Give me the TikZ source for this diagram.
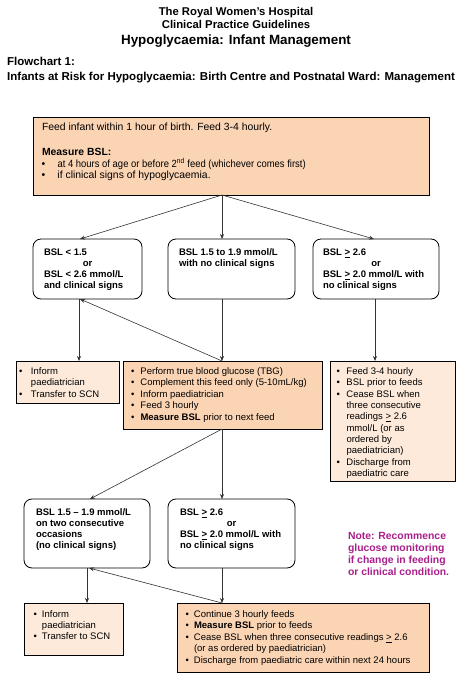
\documentclass[tikz,border=0pt]{standalone}
\usepackage{fontspec}
\setmainfont{Liberation Sans}
\usetikzlibrary{arrows.meta}
\definecolor{peach}{HTML}{FBD4B4}
\definecolor{lpeach}{HTML}{FDEADA}
\definecolor{notec}{RGB}{170,30,140}
\newcommand\lns[1]{\begin{tabular}[t]{@{}l@{}}#1\end{tabular}}
\newcommand\blst[2]{\begin{tabular}[t]{@{}p{#1}@{}l@{}}#2\end{tabular}}
\newcommand\uge{\underline{>}}
\tikzset{
  box/.style={draw=black, line width=0.8pt, inner sep=0pt, outer sep=0pt},
  rbox/.style={box, rounded corners=8pt, fill=white},
  dbox/.style={box, fill=peach},
  lbox/.style={box, fill=lpeach},
  txt/.style={anchor=base west, inner sep=0pt, outer sep=0pt, font=\fontsize{9.5}{11.4}\selectfont},
  toptxt/.style={txt, font=\fontsize{10.4}{11}\selectfont},
  btxt/.style={txt, font=\fontsize{9.5}{11}\selectfont\bfseries},
  ortxt/.style={anchor=base, inner sep=0pt, font=\fontsize{9.5}{11}\selectfont\bfseries},
  ttl/.style={anchor=base, inner sep=0pt, font=\fontsize{11.3}{13}\selectfont\bfseries},
  hdr/.style={anchor=base west, inner sep=0pt, font=\fontsize{11.5}{13}\selectfont\bfseries},
  notetxt/.style={txt, text=notec, font=\fontsize{10.4}{12}\selectfont\bfseries},
  conn/.style={draw=black!80, line width=0.6pt},
  arr/.style={conn, -{Stealth[length=5pt,width=4pt]}},
}
\begin{document}
\begin{tikzpicture}[x=1pt,y=-1pt]
\useasboundingbox (0,0) rectangle (464,677);
% titles
\node[ttl] (t1) at (236,15.7) {The Royal Women's Hospital};
\node[ttl] (t2) at (236,28.3) {Clinical Practice Guidelines};
\node[ttl, font=\fontsize{13.4}{15}\selectfont\bfseries] (t3) at (236,44.3) {Hypoglycaemia: Infant Management};
\node[hdr] (h1) at (7,65.7) {Flowchart 1:};
\node[hdr] (h2) at (7,81) {Infants at Risk for Hypoglycaemia: Birth Centre and Postnatal Ward: Management};
% boxes
\node[dbox, minimum width=396pt, minimum height=78pt] (top) at (231,156) {};
\node[rbox, minimum width=109pt, minimum height=60pt] (l2) at (87.5,269) {};
\node[rbox, minimum width=127pt, minimum height=60pt] (m2) at (231.5,269) {};
\node[rbox, minimum width=126pt, minimum height=60pt] (r2) at (376,269) {};
\node[lbox, minimum width=103pt, minimum height=42pt] (l3) at (67.5,382) {};
\node[dbox, minimum width=199pt, minimum height=68pt] (m3) at (222.5,395) {};
\node[lbox, minimum width=125pt, minimum height=120pt] (r3) at (392.5,421) {};
\node[rbox, minimum width=126pt, minimum height=69pt] (l4) at (87,533.5) {};
\node[rbox, minimum width=127pt, minimum height=69pt] (m4) at (231.5,533.5) {};
\node[lbox, minimum width=99pt, minimum height=52pt] (l5) at (73.5,629) {};
\node[dbox, minimum width=252pt, minimum height=69pt] (m5) at (303,637.5) {};
% connectors
\coordinate (tb) at (top.south -| 222,0);
\draw[arr] (tb) -- (l2.north -| 80,0);
\draw[arr] (tb) -- (m2.north -| 222,0);
\draw[arr] (tb) -- (r2.north -| 374,0);
\draw[arr] (l2.south -| 79,0) -- (l3.north -| 79,0);
\draw[arr] (m2.south -| 222,0) -- (m3.north -| 222,0);
\draw[arr] (r2.south -| 375,0) -- (r3.north -| 375,0);
\draw[arr] (m3.north -| 222,0) -- (l2.south -| 80,0);
\draw[arr] (m3.south -| 222,0) -- (l4.north -| 90,0);
\draw[arr] (m3.south -| 222,0) -- (m4.north -| 222,0);
\draw[arr] (l4.south -| 87,0) -- (l5.north -| 87,0);
\draw[arr] (m4.south -| 222,0) -- (m5.north -| 222,0);
\draw[arr] (m5.north -| 222,0) -- (l4.south -| 89,0);
% top box text
\node[toptxt] (tt1) at (42,130.5) {Feed infant within 1 hour of birth. Feed 3-4 hourly.};
\node[toptxt] (tt2) at (42,155) {\textbf{Measure BSL:}};
\node[toptxt] (tt3) at (41.5,167) {\blst{16pt}{\textbullet & \scalebox{0.91}[1]{at 4 hours of age or before 2\textsuperscript{nd} feed (whichever comes first)}\\
\textbullet & if clinical signs of hypoglycaemia.}};
% row 2
\node[btxt] (l2t) at (44,255.5) {\lns{BSL < 1.5\\ \\ BSL < 2.6 mmol/L\\ and clinical signs}};
\node[ortxt] (l2o) at (87.5,266.5) {or};
\node[btxt] (m2t) at (179,255.5) {\lns{BSL 1.5 to 1.9 mmol/L\\ with no clinical signs}};
\node[btxt] (r2t) at (323,255.5) {\lns{BSL \uge{} 2.6\\ \\ BSL \uge{} 2.0 mmol/L with\\ no clinical signs}};
\node[ortxt] (r2o) at (376,266.5) {or};
% row 3
\node[txt] (l3t) at (19,374.5) {\blst{12pt}{\textbullet & Inform\\ & paediatrician\\ \textbullet & Transfer to SCN}};
\node[txt] (m3t) at (131,374.5) {\blst{9.5pt}{\textbullet & Perform true blood glucose (TBG)\\
\textbullet & Complement this feed only (5-10mL/kg)\\
\textbullet & Inform paediatrician\\
\textbullet & Feed 3 hourly\\
\textbullet & \textbf{Measure BSL} prior to next feed}};
\node[txt, font=\fontsize{9.5}{11.33}\selectfont] (r3t) at (336.5,374.5) {\blst{10pt}{\textbullet & Feed 3-4 hourly\\
\textbullet & BSL prior to feeds\\
\textbullet & Cease BSL when\\
 & three consecutive\\
 & readings \uge{} 2.6\\
 & mmol/L (or as\\
 & ordered by\\
 & paediatrician)\\
\textbullet & Discharge from\\
 & paediatric care}};
% row 4
\node[btxt] (l4t) at (36,515.5) {\lns{BSL 1.5 -- 1.9 mmol/L\\ on two consecutive\\ occasions\\ (no clinical signs)}};
\node[btxt] (m4t) at (180,515.5) {\lns{BSL \uge{} 2.6\\ \\ BSL \uge{} 2.0 mmol/L with\\ no clinical signs}};
\node[ortxt] (m4o) at (231.5,526.5) {or};
\node[notetxt] (note) at (348,539) {\lns{Note: Recommence\\ glucose monitoring\\ if change in feeding\\ or clinical condition.}};
% row 5
\node[txt, font=\fontsize{9.5}{11}\selectfont] (l5t) at (33.5,617.5) {\blst{8.5pt}{\textbullet & Inform\\ & paediatrician\\ \textbullet & Transfer to SCN}};
\node[txt] (m5t) at (185.5,617.5) {\blst{8.5pt}{\textbullet & Continue 3 hourly feeds\\
\textbullet & \textbf{Measure BSL} prior to feeds\\
\textbullet & Cease BSL when three consecutive readings \uge{} 2.6\\
 & (or as ordered by paediatrician)\\
\textbullet & Discharge from paediatric care within next 24 hours}};
\end{tikzpicture}
\end{document}
